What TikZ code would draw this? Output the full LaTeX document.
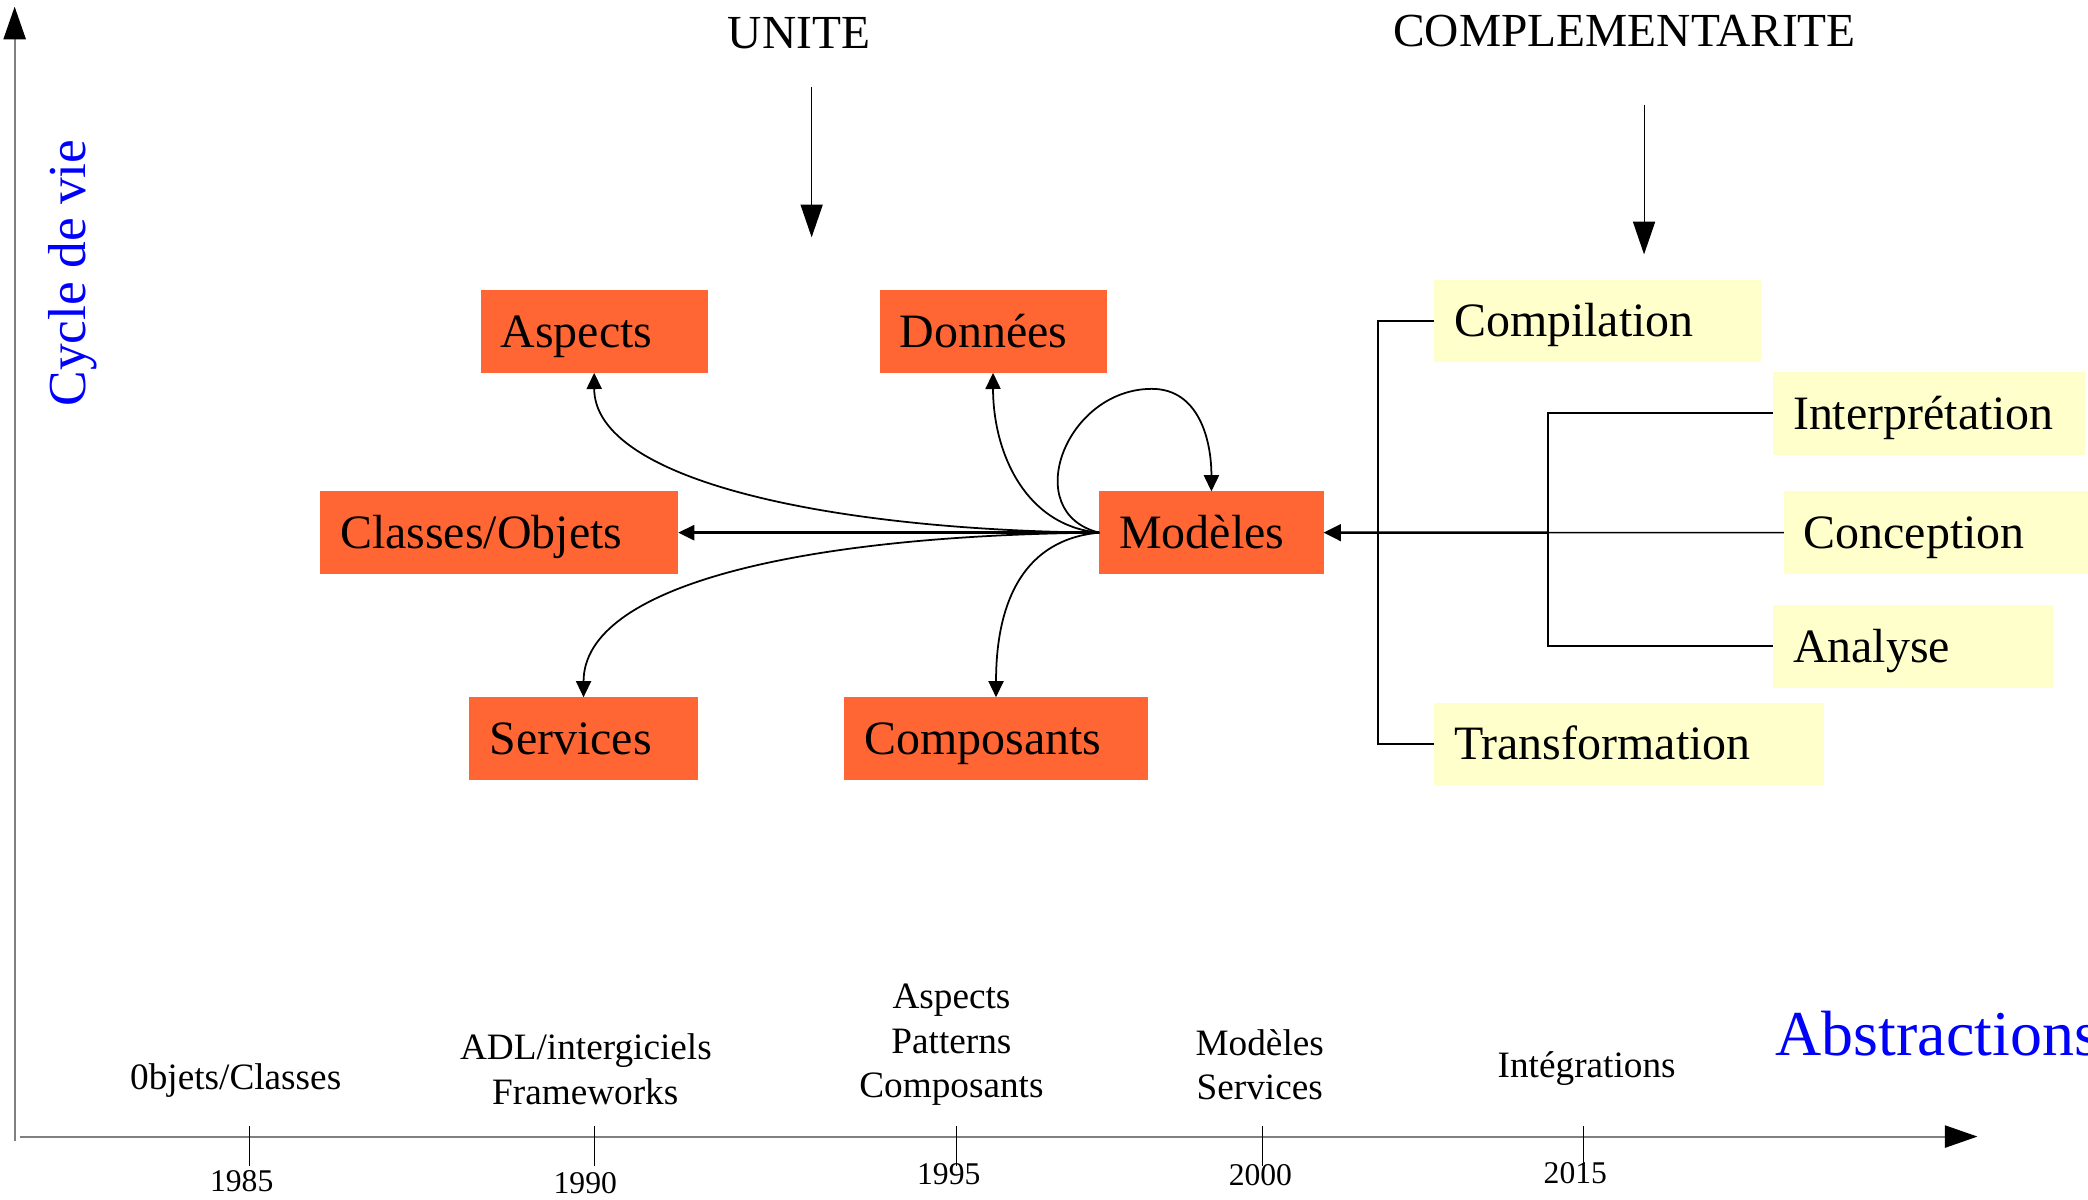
\documentclass[tikz,border=0pt]{standalone}
\usepackage{fontspec}
\setmainfont{Liberation Serif}
\usetikzlibrary{arrows.meta}
\definecolor{boxorange}{RGB}{255,102,51}
\definecolor{boxyellow}{RGB}{255,255,204}
\definecolor{axisgray}{RGB}{128,128,128}
\definecolor{labelblue}{RGB}{0,0,255}
\tikzset{
  basebox/.style={anchor=north west, minimum height=23.49pt, inner xsep=5.683pt, inner ysep=0pt,
    outer sep=0pt, text height=9.03pt, text depth=0pt, align=left,
    font=\fontsize{13.64pt}{16pt}\selectfont},
  obox/.style={basebox, fill=boxorange},
  ybox/.style={basebox, fill=boxyellow},
  eralabel/.style={anchor=base, inner sep=0pt, font=\fontsize{10.6pt}{12.7pt}\selectfont},
  yearlabel/.style={anchor=base, inner sep=0pt, font=\fontsize{9pt}{10pt}\selectfont},
  titlelabel/.style={anchor=base, inner sep=0pt, font=\fontsize{13.5pt}{16pt}\selectfont},
  conn/.style={draw=black, line width=0.5pt, -{Triangle[length=4.6pt,width=4.3pt]}},
  mainconn/.style={draw=black, line width=0.75pt, -{Triangle[length=4.9pt,width=4.7pt]}},
  thinline/.style={draw=black, line width=0.4pt},
  treeline/.style={draw=black, line width=0.55pt},
  axisline/.style={draw=axisgray, line width=0.6pt, -{Triangle[length=9.3pt,width=6.3pt,color=black]}},
  titlearrow/.style={draw=black, line width=0.3pt, -{Triangle[length=9.3pt,width=6.3pt]}},
  tickline/.style={draw=black, line width=0.3pt},
}
\begin{document}
\begin{tikzpicture}[x=0.013316cm,y=-0.013316cm]
\path[use as bounding box] (0,0) rectangle (1568,900.4);
\clip (0,0) rectangle (1568,900.4);

% ---- axes
\coordinate (yax0) at (11,857);
\coordinate (yax1) at (11,5);
\coordinate (xax0) at (15,853.5);
\coordinate (xax1) at (1485,853.5);
\draw[axisline] (yax0) -- (yax1);
\draw[axisline] (xax0) -- (xax1);

% ticks
\foreach \tx in {187.5,446.5,718.5,948,1189}
  \draw[tickline] (\tx,845.6) -- (\tx,875.6);

% years
\node[yearlabel] (y85) at (181.5,894.6) {1985};
\node[yearlabel] (y90) at (439.5,896) {1990};
\node[yearlabel] (y95) at (712.5,889.5) {1995};
\node[yearlabel] (y00) at (946.5,889.9) {2000};
\node[yearlabel] (y15) at (1183,888.6) {2015};

% era labels
\node[eralabel] (e1) at (177,818.3) {0bjets/Classes};
\node[eralabel] (e2a) at (440,795.7) {ADL/intergiciels};
\node[eralabel] (e2b) at (439.5,829.3) {Frameworks};
\node[eralabel] (e3a) at (714.5,757) {Aspects};
\node[eralabel] (e3b) at (714.5,791) {Patterns};
\node[eralabel] (e3c) at (714.5,824.3) {Composants};
\node[eralabel] (e4a) at (946,792.5) {Modèles};
\node[eralabel] (e4b) at (946,825.8) {Services};
\node[eralabel] (e5) at (1191.5,809.2) {Intégrations};

% axis titles
\node[anchor=base west, inner sep=0pt, text=labelblue, font=\fontsize{18.2pt}{22pt}\selectfont] (abs) at (1333,792.5) {Abstractions};
\node[anchor=base, inner sep=0pt, rotate=90, text=labelblue, font=\fontsize{15.2pt}{18pt}\selectfont] (cyc) at (64,205) {Cycle de vie};

% top titles and arrows
\node[titlelabel] (unite) at (600,36.5) {UNITE};
\node[titlelabel] (compl) at (1220,35) {COMPLEMENTARITE};
\coordinate (ua1) at (609.5,65.3);
\coordinate (ua2) at (609.5,178.2);
\coordinate (ca1) at (1234.6,78.5);
\coordinate (ca2) at (1234.6,191);
\draw[titlearrow] (ua1) -- (ua2);
\draw[titlearrow] (ca1) -- (ca2);

% orange boxes
\node[obox, text width=53.23pt] (asp) at (361,218) {Aspects};
\node[obox, text width=53.23pt] (don) at (660.5,218) {Données};
\node[obox, text width=90.55pt] (cls) at (240.4,369) {Classes/Objets};
\node[obox, text width=52.47pt] (mod) at (825.5,369) {Modèles};
\node[obox, text width=53.61pt] (srv) at (352.5,523.6) {Services};
\node[obox, text width=75.02pt] (cmp) at (634,523.6) {Composants};

% yellow boxes
\node[ybox, text width=81.65pt] (cpl) at (1077,210) {Compilation};
\node[ybox, text width=77.29pt] (itp) at (1331.5,279.4) {Interprétation};
\node[ybox, text width=79.56pt] (cnc) at (1339.5,369) {Conception};
\node[ybox, text width=68.20pt] (ana) at (1331.5,454.3) {Analyse};
\node[ybox, text width=99.46pt] (trf) at (1077,527.6) {Transformation};

% connectors from Modeles
\draw[conn, line width=0.7pt] (mod.west) -- (cls.east);
\draw[conn] (mod.west) .. controls (620,398) and (446.25,360) .. (asp.south);
\draw[conn] (mod.west) .. controls (770,395) and (745.75,340) .. (don.south);
\draw[conn] (mod.west) .. controls (600,402) and (438.25,440) .. (srv.north);
\draw[conn] (mod.west) .. controls (770,405) and (748,450) .. (cmp.north);
\draw[conn] (mod.west) .. controls (765,385) and (800,292) .. (865,292)
                     .. controls (900,292) and (909.75,330) .. (mod.north);

% tree on the right
\coordinate (j1) at (1035,400);
\coordinate (j2) at (1162.5,400);
\draw[treeline] (cpl.west) -| (j1) |- (trf.west);
\draw[treeline] (itp.west) -| (j2) |- (ana.west);
\draw[thinline] (cnc.west) -- (j2);
\draw[mainconn] (j2) -- (mod.east);
\end{tikzpicture}
\end{document}
